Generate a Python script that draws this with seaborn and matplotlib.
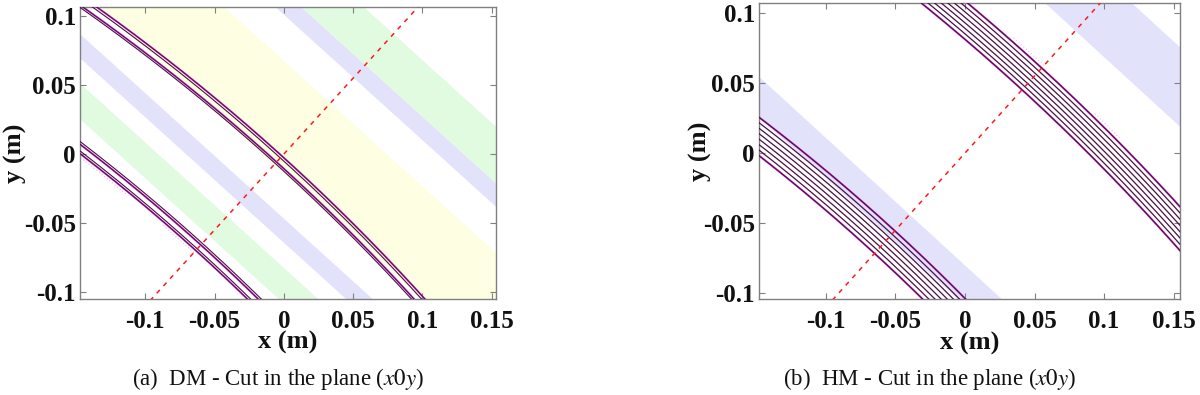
"""
Two cuts in the plane (x0y): wave fronts with the zone bands behind them.
"""

import matplotlib

matplotlib.use("Agg")
import matplotlib.pyplot as plt
import numpy as np
import seaborn as sns

sns.set_theme(style="white")
plt.rcParams["font.family"] = ["Liberation Serif", "DejaVu Serif"]
plt.rcParams["mathtext.fontset"] = "stix"
plt.rcParams["axes.unicode_minus"] = False

# axes
X_TICKS = [-0.1, -0.05, 0, 0.05, 0.1, 0.15]
X_TICK_LABELS = ["-0.1", "-0.05", "0", "0.05", "0.1", "0.15"]
Y_TICKS = [-0.1, -0.05, 0, 0.05, 0.1]
Y_TICK_LABELS = ["-0.1", "-0.05", "0", "0.05", "0.1"]
DM_XLIM = (-0.147, 0.153)
HM_XLIM = (-0.148, 0.1545)
DM_YLIM = (-0.105, 0.1065)
HM_YLIM = (-0.104, 0.107)

# red cut line through the origin
CUT_SLOPE = 1.1
CUT_X = [-0.2, 0.2]

# wave fronts: position along the cut line (m), all curved around one centre
FRONT_CENTER = -1.476
DM_FRONTS = [-0.0944, -0.0928, -0.0890, -0.0874, -0.0092, -0.0078, -0.0038, -0.0020]
DM_FRONT_PINK = [True, False, True, False, False, True, False, True]
HM_FRONTS = [
    -0.0966, -0.0935, -0.0904, -0.0873, -0.0842, -0.0811, -0.0780, -0.0749,
    0.0610, 0.0640, 0.0670, 0.0700, 0.0730, 0.0760, 0.0790, 0.0820,
]
HM_FRONT_PINK = [
    True, False, False, False, False, False, False, True,
    True, False, False, False, False, False, False, True,
]

# faint scattered traces: front position, t-range along the front
DM_TRACES = [(-0.0965, 0.065, 0.105), (-0.0965, 0.0, 0.03)]
HM_TRACES = [(0.0845, 0.0, 0.03), (0.0845, -0.075, -0.05)]

# bands (position range along the cut line)
DM_BAND_LO = [-0.0802, -0.0475, -0.0107, 0.0747, 0.0873]
DM_BAND_HI = [-0.0610, -0.0346, 0.0499, 0.0873, 0.1176]
DM_BAND_KIND = ["green", "blue", "yellow", "blue", "green"]
HM_BAND_LO = [-0.0804, 0.1179]
HM_BAND_HI = [-0.0592, 0.1598]
HM_BAND_KIND = ["blue", "blue"]

BAND_COLORS = {"green": "#e1fbe1", "blue": "#e2e2fb", "yellow": "#fdfee2"}
LINE_DARK = "#4a1046"
LINE_PINK = "#e626e6"

UX, UY = np.array([1.0, CUT_SLOPE]) / np.hypot(1.0, CUT_SLOPE)
VX, VY = -UY, UX


def front_xy(s0, t):
    r = s0 - FRONT_CENTER
    s = FRONT_CENTER + np.sqrt(r**2 - t**2)
    return s * UX + t * VX, s * UY + t * VY


def draw_bands(ax, lo, hi, kinds):
    xg = np.linspace(-0.3, 0.3, 50)
    for a, b, k in zip(lo, hi, kinds):
        ya = a / UY - (UX / UY) * xg
        yb = b / UY - (UX / UY) * xg
        ax.fill_between(xg, ya, yb, color=BAND_COLORS[k], lw=0, zorder=0)


def draw_fronts(ax, fronts, pink, dark_lw):
    t = np.linspace(-0.25, 0.25, 500)
    for s0, p in zip(fronts, pink):
        xs, ys = front_xy(s0, t)
        if p:
            sns.lineplot(x=xs, y=ys, sort=False, estimator=None, color=LINE_PINK,
                         lw=1.5, alpha=0.75, ax=ax, zorder=2)
        sns.lineplot(x=xs, y=ys, sort=False, estimator=None, color=LINE_DARK,
                     lw=dark_lw, ax=ax, zorder=3)


def draw_traces(ax, traces):
    for s0, t0, t1 in traces:
        xs, ys = front_xy(s0, np.linspace(t0, t1, 40))
        ax.plot(xs, ys, ls=(0, (1, 2)), color=LINE_PINK, lw=0.8, alpha=0.35, zorder=2)


def draw_cut(ax):
    xs = np.array(CUT_X)
    sns.lineplot(x=xs, y=CUT_SLOPE * xs, color="#ff1a1a", lw=1.1,
                 dashes=False, ax=ax, zorder=4)
    ax.lines[-1].set_linestyle((0, (3, 3.5)))


def style_axes(ax, xlim, ylim, ylab_x):
    ax.set_xlim(*xlim)
    ax.set_ylim(*ylim)
    ax.set_xticks(X_TICKS, X_TICK_LABELS)
    ax.set_yticks(Y_TICKS, Y_TICK_LABELS)
    ax.tick_params(direction="in", bottom=True, left=True, top=True, right=True,
                   length=4, width=0.8, color="#808080", labelsize=18,
                   labelcolor="#111111")
    ax.tick_params(axis="x", pad=8)
    ax.tick_params(axis="y", pad=3)
    for lbl in ax.get_xticklabels() + ax.get_yticklabels():
        lbl.set_fontweight("bold")
    for sp in ax.spines.values():
        sp.set_color("#808080")
        sp.set_linewidth(1.0)
    ax.set_xlabel("x (m)", fontsize=19, fontweight="bold", color="#111111")
    ax.set_ylabel("y (m)", fontsize=19, fontweight="bold", color="#111111")
    ax.xaxis.set_label_coords(0.5, -0.15)
    ax.xaxis.label.set_va("center")
    ax.yaxis.set_label_coords(ylab_x, 0.5)
    ax.yaxis.label.set_va("center")
    ax.grid(False)


fig = plt.figure(figsize=(12, 3.95), dpi=100)
ax1 = fig.add_axes([0.0667, 0.2430, 0.3466, 0.7393])
ax2 = fig.add_axes([0.6325, 0.2430, 0.3508, 0.7494])

draw_bands(ax1, DM_BAND_LO, DM_BAND_HI, DM_BAND_KIND)
draw_traces(ax1, DM_TRACES)
draw_fronts(ax1, DM_FRONTS, DM_FRONT_PINK, 0.8)
draw_cut(ax1)
style_axes(ax1, DM_XLIM, DM_YLIM, -0.155)

draw_bands(ax2, HM_BAND_LO, HM_BAND_HI, HM_BAND_KIND)
draw_traces(ax2, HM_TRACES)
draw_fronts(ax2, HM_FRONTS, HM_FRONT_PINK, 0.9)
draw_cut(ax2)
style_axes(ax2, HM_XLIM, HM_YLIM, -0.14)

fig.text(278 / 1200, 0.04, r"(a)  DM - Cut in the plane ($x0y$)", fontsize=16.5,
         ha="center", va="center", color="#111111")
fig.text(930 / 1200, 0.04, r"(b)  HM - Cut in the plane ($x0y$)", fontsize=16.5,
         ha="center", va="center", color="#111111")

fig.savefig("out.png", dpi=100)
plt.close(fig)
